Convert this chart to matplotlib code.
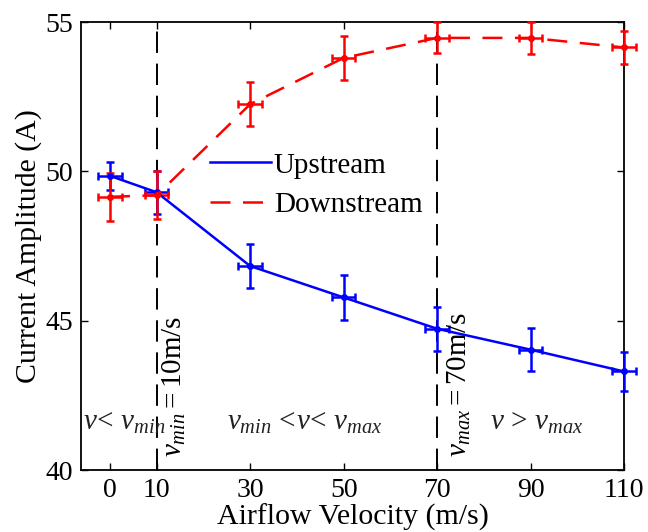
import matplotlib
matplotlib.use("Agg")
import matplotlib.pyplot as plt
from matplotlib.lines import Line2D

# 字型設定 (Times 風格)
plt.rcParams["font.family"] = ["Liberation Serif", "DejaVu Serif"]
plt.rcParams["mathtext.fontset"] = "custom"
plt.rcParams["mathtext.rm"] = "Liberation Serif"
plt.rcParams["mathtext.it"] = "Liberation Serif:italic"

# 資料
velocity = [0, 10, 30, 50, 70, 90, 110]
upstream = [49.85, 49.3, 46.83, 45.78, 44.73, 44.03, 43.3]
upstream_err = [0.48, 0.72, 0.75, 0.75, 0.73, 0.73, 0.65]
downstream = [49.15, 49.2, 52.25, 53.8, 54.47, 54.47, 54.15]
downstream_err = [0.8, 0.8, 0.74, 0.75, 0.52, 0.53, 0.55]
velocity_err = [2.5, 2.5, 2.5, 2.5, 2.5, 2.5, 2.5]
v_min = 10
v_max = 70

blue = "#0000ff"
red = "#ff0000"
red_dash = (0, (8, 5))

fig = plt.figure(figsize=(6.48, 5.32), dpi=100)
ax = fig.add_axes([0.125, 0.1165, 0.838, 0.842])

# 曲線 + 誤差棒
for yv, ye, c, ls in [(upstream, upstream_err, blue, "-"),
                      (downstream, downstream_err, red, red_dash)]:
    eb = ax.errorbar(velocity, yv, yerr=ye, xerr=velocity_err,
                     color=c, lw=1.8, ls=ls, marker="o", ms=4,
                     elinewidth=1.8, capsize=3.2, capthick=1.8, zorder=3)
    for art in eb.lines[1] + eb.lines[2]:
        art.set_clip_on(False)
    eb.lines[0].set_clip_on(False)
    for art in eb.lines[2]:
        art.set_clip_on(False)

# 分界線
for xv in [v_min, v_max]:
    ax.axvline(xv, color="black", lw=1.4, ls=(0, (11, 5.5)), zorder=1)

ax.text(13.8, 40.45, r"$v_{min}=$10m/s", rotation=90, ha="center",
        va="bottom", fontsize=21)
ax.text(74.7, 40.45, r"$v_{max}=$70m/s", rotation=90, ha="center",
        va="bottom", fontsize=21)
ax.text(3.1, 41.57, r"$v\!<\,v_{min}$", ha="center", va="center",
        fontsize=21, color="#222222")
ax.text(41.6, 41.57, r"$v_{min}\,<\!v\!<\,v_{max}$", ha="center",
        va="center", fontsize=21, color="#222222")
ax.text(91.4, 41.57, r"$v\,>\,v_{max}$", ha="center", va="center",
        fontsize=21, color="#222222")

ax.set_xlim(-6.2, 110)
ax.set_ylim(40, 55)
ax.set_xticks(velocity)
ax.set_yticks([40, 45, 50, 55])
ax.tick_params(direction="in", length=5, top=True, right=True,
               labelsize=20, width=1, pad=6)
for s in ax.spines.values():
    s.set_linewidth(1.3)

ax.set_xlabel("Airflow Velocity (m/s)", fontsize=21.5, labelpad=0)
ax.set_ylabel("Current Amplitude (A)", fontsize=21.5, labelpad=2)

handles = [Line2D([], [], color=blue, lw=1.8),
           Line2D([], [], color=red, lw=1.8, ls=red_dash)]
ax.legend(handles, ["Upstream", "Downstream"], loc="center",
          bbox_to_anchor=(0.433, 0.636), frameon=False,
          fontsize=21, handlelength=2.1, handletextpad=0.1,
          labelspacing=0.45, borderpad=0)

fig.savefig("out.png", dpi=100)
